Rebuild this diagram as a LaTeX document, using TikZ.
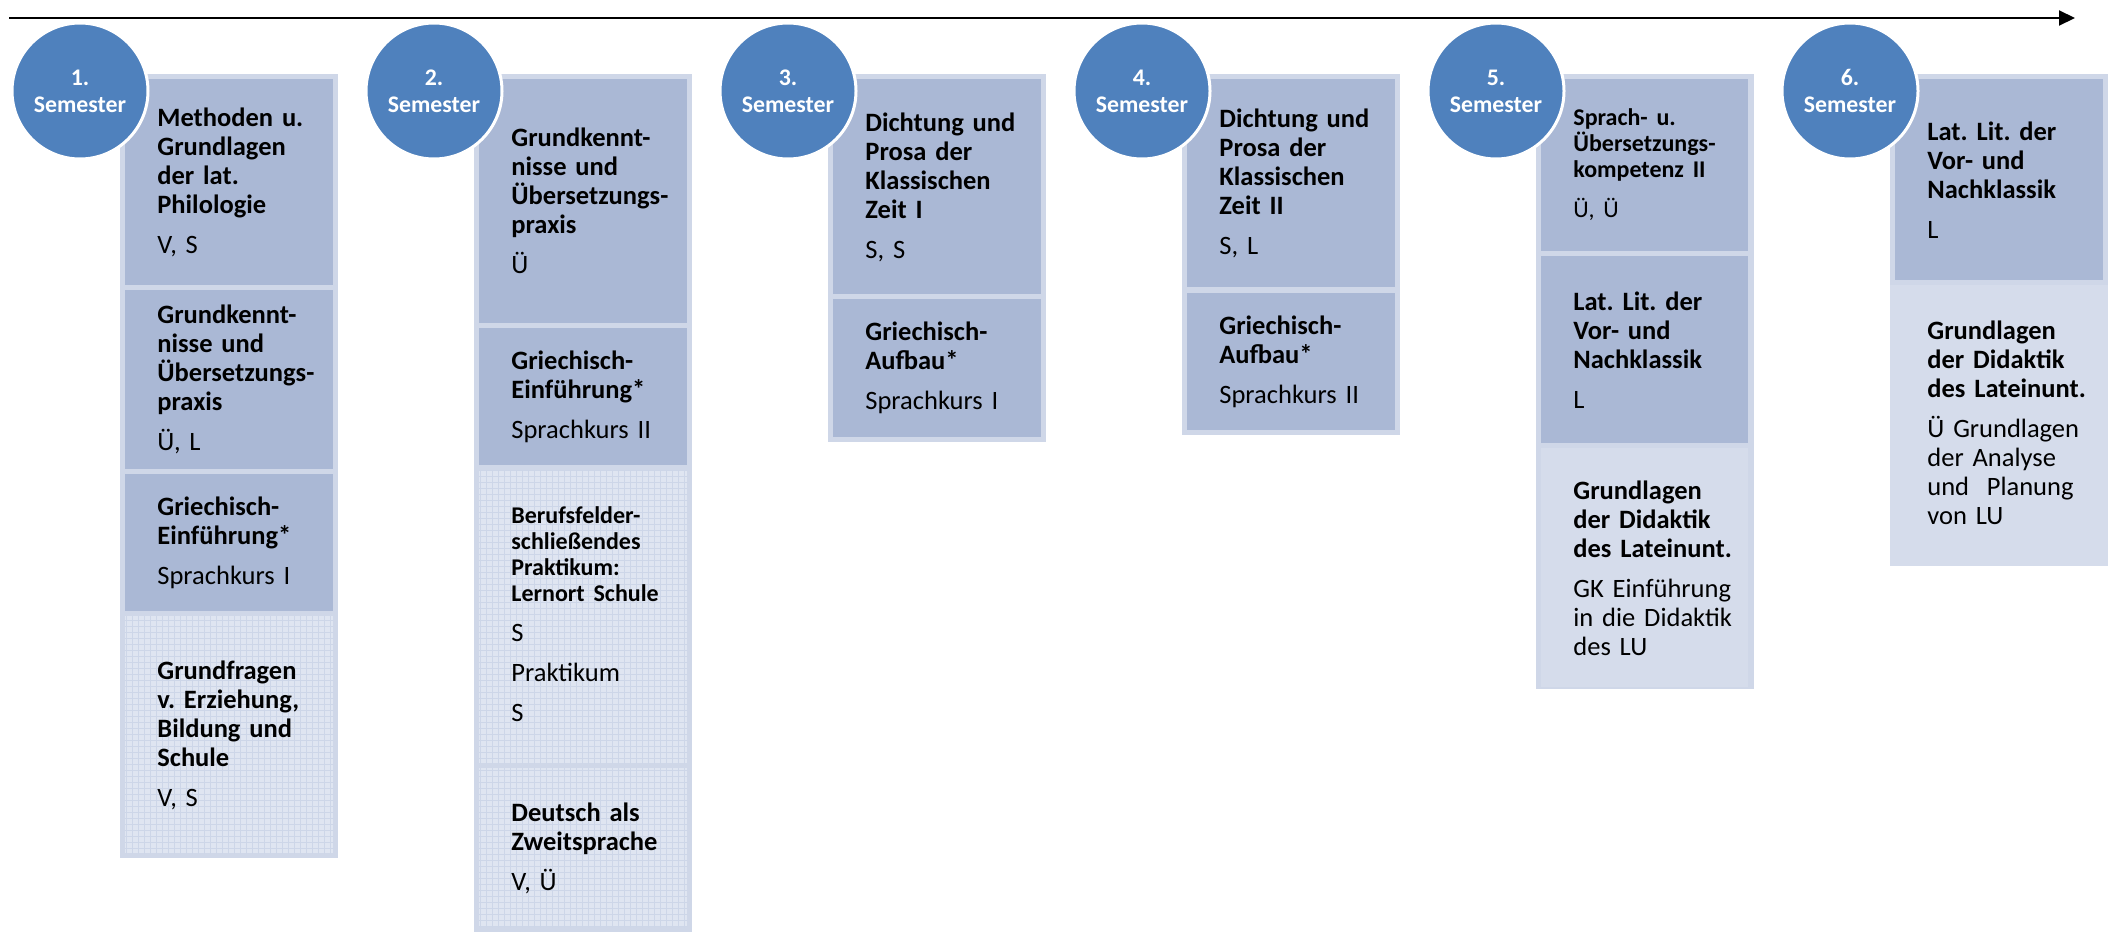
\documentclass[tikz,border=0pt]{standalone}
\usepackage{fontspec}
\setmainfont{Carlito}
\usetikzlibrary{arrows.meta,patterns}
\frenchspacing

\definecolor{semblue}{RGB}{79,129,189}
\definecolor{framecol}{RGB}{207,215,232}
\definecolor{darkcol}{RGB}{170,184,213}
\definecolor{lightcol}{RGB}{223,229,241}
\definecolor{gridcol}{RGB}{205,214,232}
\definecolor{dotcol}{RGB}{213,220,235}

\newcommand{\smalltitle}{\fontsize{12}{13}\selectfont\bfseries}

\tikzset{
  frame/.style={fill=framecol},
  darkbox/.style={fill=darkcol},
  gridbox/.style={fill=lightcol, postaction={pattern=grid, pattern color=gridcol}},
  dotbox/.style={fill=dotcol},
  semcircle/.style={circle, fill=semblue, draw=white, line width=1.5pt, minimum size=68pt,
    inner sep=0pt, align=center, text=white, font=\fontsize{11.9}{13.5}\selectfont\bfseries},
  modtext/.style={anchor=west, text width=88pt, align=left, inner sep=0pt,
    font=\fontsize{13.25}{14.5}\selectfont\frenchspacing},
  timeline/.style={line width=1pt, -{Triangle[length=8pt,width=7.5pt]}}
}

\begin{document}
\begin{tikzpicture}[x=0.5pt,y=-0.5pt]
\useasboundingbox (0,0) rectangle (2110,932);

% time line
\coordinate (start) at (9,18);
\coordinate (end) at (2075,18);
\draw[timeline] (start) -- (end);

% frames of the columns
\foreach \x/\b in {120/858,474/932,828/442,1182/435,1536/689,1890/566}
  \fill[frame] (\x,74) rectangle (\x+218,\b);

% 1. Semester
\fill[darkbox] (125,79) rectangle (333,285);
\node[modtext] (m11) at (157,182) {\textbf{Methoden u.\\Grundlagen\\der lat.\\Philologie}\\[5.5pt]V, S};
\fill[darkbox] (125,290) rectangle (333,469);
\node[modtext] (m12) at (157,379) {\textbf{Grundkennt-\\nisse und\\Übersetzungs-\\praxis}\\[5.5pt]Ü, L};
\fill[darkbox] (125,474) rectangle (333,611);
\node[modtext] (m13) at (157,543) {\textbf{Griechisch-\\Einführung*}\\[5.5pt]Sprachkurs I};
\path[gridbox] (125,616) rectangle (333,853);
\node[modtext] (m14) at (157,735) {\textbf{Grundfragen\\v. Erziehung,\\Bildung und\\Schule}\\[5.5pt]V, S};

% 2. Semester
\fill[darkbox] (479,79) rectangle (687,323);
\node[modtext] (m21) at (511,201) {\textbf{Grundkennt-\\nisse und\\Übersetzungs-\\praxis}\\[5.5pt]Ü};
\fill[darkbox] (479,328) rectangle (687,465);
\node[modtext] (m22) at (511,397) {\textbf{Griechisch-\\Einführung*}\\[5.5pt]Sprachkurs II};
\path[gridbox] (479,470) rectangle (687,763);
\node[modtext] (m23) at (511,614) {{\smalltitle Berufsfelder-\\schließendes\\Praktikum:\\Lernort Schule\par}\vspace{5.5pt}S\\[5.5pt]Praktikum\\[5.5pt]S};
\path[gridbox] (479,768) rectangle (687,927);
\node[modtext] (m24) at (511,848) {\textbf{Deutsch als\\Zweitsprache}\\[5.5pt]V, Ü};

% 3. Semester
\fill[darkbox] (833,79) rectangle (1041,294);
\node[modtext] (m31) at (865,187) {\textbf{Dichtung und\\Prosa der\\Klassischen\\Zeit I}\\[5.5pt]S, S};
\fill[darkbox] (833,299) rectangle (1041,437);
\node[modtext] (m32) at (865,368) {\textbf{Griechisch-\\Aufbau*}\\[5.5pt]Sprachkurs I};

% 4. Semester
\fill[darkbox] (1187,79) rectangle (1395,287);
\node[modtext] (m41) at (1219,183) {\textbf{Dichtung und\\Prosa der\\Klassischen\\Zeit II}\\[5.5pt]S, L};
\fill[darkbox] (1187,293) rectangle (1395,430);
\node[modtext] (m42) at (1219,362) {\textbf{Griechisch-\\Aufbau*}\\[5.5pt]Sprachkurs II};

% 5. Semester
\fill[darkbox] (1541,79) rectangle (1748,251);
\node[modtext] (m51) at (1573,165) {{\smalltitle Sprach- u.\\Übersetzungs-\\kompetenz II\par}\vspace{5.5pt}{\fontsize{12}{13}\selectfont Ü, Ü}};
\fill[darkbox] (1541,256) rectangle (1748,443);
\node[modtext] (m52) at (1573,350) {\textbf{Lat. Lit. der\\Vor- und\\Nachklassik}\\[5.5pt]L};
\fill[dotbox] (1541,448) rectangle (1748,687);
\node[modtext] (m53) at (1573,568) {\textbf{Grundlagen\\der Didaktik\\des Lateinunt.}\\[5.5pt]GK Einführung\\in die Didaktik\\des LU};

% 6. Semester
\fill[darkbox] (1895,79) rectangle (2103,280);
\node[modtext] (m61) at (1927,180) {\textbf{Lat. Lit. der\\Vor- und\\Nachklassik}\\[5.5pt]L};
\fill[dotbox] (1890,285) rectangle (2108,566);
\node[modtext] (m62) at (1927,423) {\textbf{Grundlagen\\der Didaktik\\des Lateinunt.}\\[5.5pt]Ü Grundlagen\\der Analyse\\und\ \ Planung\\von LU};

% semester circles
\foreach \n/\x in {1/80,2/434,3/788,4/1142,5/1496,6/1850}
  \node[semcircle] (sem\n) at (\x,91) {\n.\\Semester};

\end{tikzpicture}
\end{document}
